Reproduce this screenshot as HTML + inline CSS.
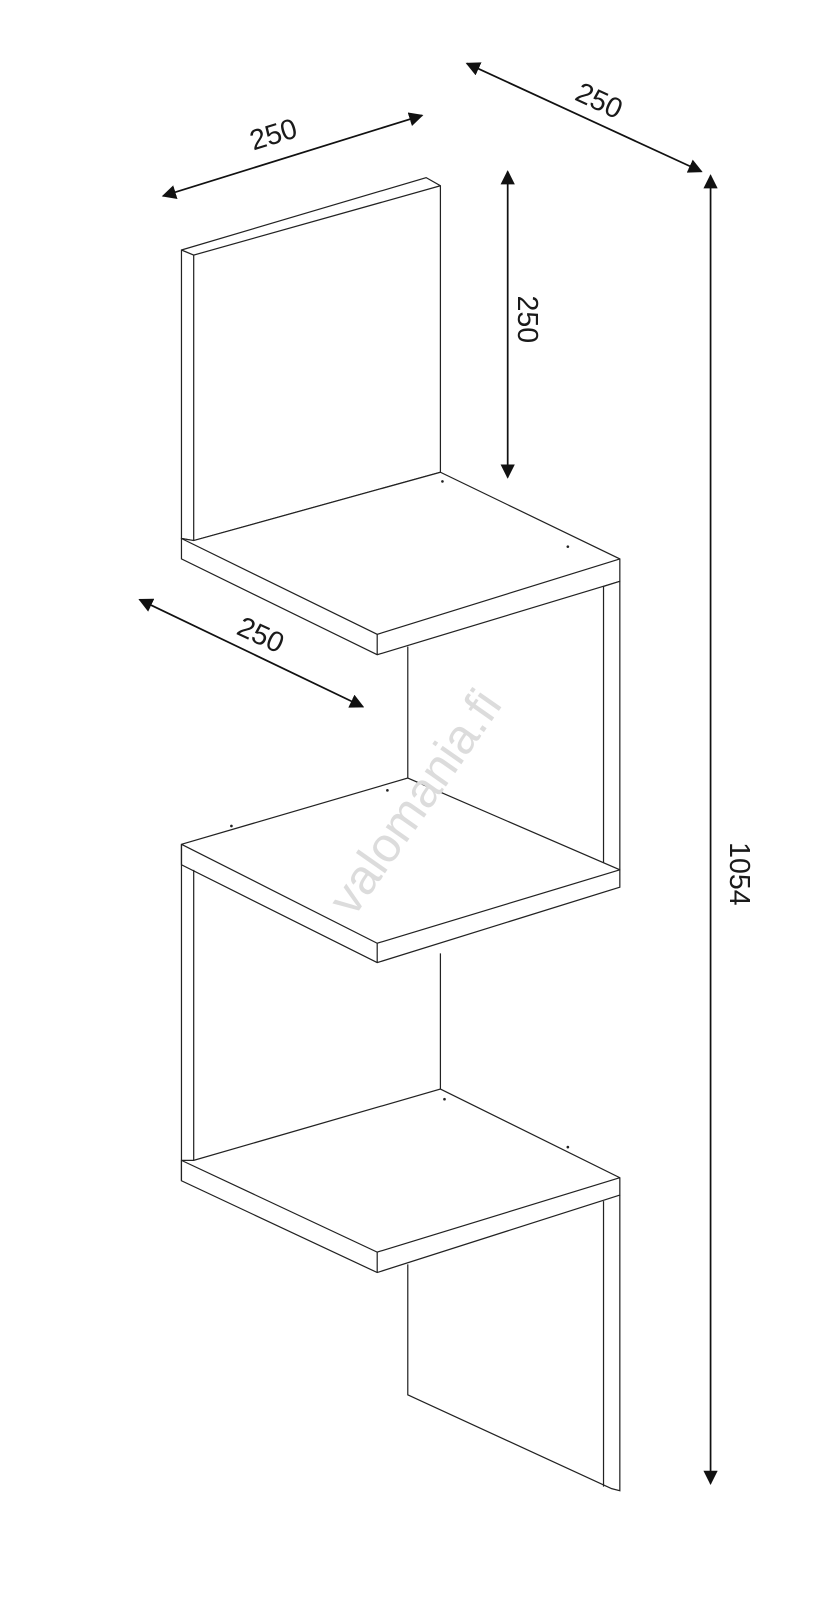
<!DOCTYPE html>
<html><head><meta charset="utf-8"><style>
html,body{margin:0;padding:0;background:#fff;}
svg{display:block;}
text{font-family:"Liberation Sans",Arial,sans-serif;fill:#1a1a1a;}
</style></head><body>
<svg width="838" height="1600" viewBox="0 0 822 1569" xmlns="http://www.w3.org/2000/svg">
<defs>
<marker id="a" viewBox="0 0 10 10" refX="9" refY="5" markerWidth="14" markerHeight="14" markerUnits="userSpaceOnUse" orient="auto-start-reverse">
<path d="M0,0 L10,5 L0,10 z" fill="#111"/></marker>
</defs>
<g fill="none" stroke="#222" stroke-width="1.2" stroke-linejoin="miter">
<polygon points="178,245 418,174 432,182 432,463 190,530 178,528" fill="#fff"/>
<polyline points="178,245 190,250 432,182"/>
<line x1="190" y1="250" x2="190" y2="530"/>
<polygon points="178,528 190,530 432,463 608,548 608,570 370,642 178,548" fill="#fff"/>
<polyline points="178,528 370,622 608,548"/>
<line x1="370" y1="622" x2="370" y2="642"/>
<polygon points="592,575 608,570 608,853 592,855" fill="#fff"/>
<line x1="400" y1="634" x2="400" y2="763"/>
<polygon points="178,828 400,763 608,853 608,870 370,944 178,848" fill="#fff"/>
<polyline points="178,828 370,925 608,853"/>
<line x1="370" y1="925" x2="370" y2="944"/>
<line x1="178" y1="828" x2="178" y2="848"/>
<polyline points="178,848 178,1158"/>
<line x1="190" y1="853" x2="190" y2="1138"/>
<line x1="432" y1="935" x2="432" y2="1068"/>
<polygon points="178,1138 190,1138 432,1068 608,1155 608,1172 370,1248 178,1158" fill="#fff"/>
<polyline points="178,1138 370,1228 608,1155"/>
<line x1="370" y1="1228" x2="370" y2="1248"/>
<polyline points="400,1240 400,1368 600,1460 608,1462 608,1172"/>
<line x1="592" y1="1178" x2="592" y2="1458"/>
</g>
<g fill="#222">
<circle cx="434" cy="472" r="1.3"/><circle cx="557" cy="536" r="1.3"/>
<circle cx="380" cy="775" r="1.3"/><circle cx="227" cy="810" r="1.3"/>
<circle cx="436" cy="1078" r="1.3"/><circle cx="557" cy="1125" r="1.3"/>
</g>
<text x="412" y="800" font-size="48" style="fill:#dcdcdc" transform="rotate(-55 412 790)" text-anchor="middle">valomania.fi</text>
<g stroke="#111" stroke-width="1.7" marker-start="url(#a)" marker-end="url(#a)">
<line x1="160" y1="192" x2="414" y2="113"/>
<line x1="458" y1="62" x2="688" y2="168"/>
<line x1="498" y1="168" x2="498" y2="468"/>
<line x1="137" y1="588" x2="356" y2="693"/>
<line x1="697" y1="172" x2="697" y2="1455"/>
</g>
<g font-size="28">
<text x="268" y="141" transform="rotate(-17 268 131)" text-anchor="middle">250</text>
<text x="588" y="108" transform="rotate(25 588 98)" text-anchor="middle">250</text>
<text x="508" y="313" transform="rotate(90 508 313)" text-anchor="middle">250</text>
<text x="256" y="632" transform="rotate(25 256 622)" text-anchor="middle">250</text>
<text x="716" y="857" transform="rotate(90 716 857)" text-anchor="middle">1054</text>
</g>
</svg>
</body></html>
